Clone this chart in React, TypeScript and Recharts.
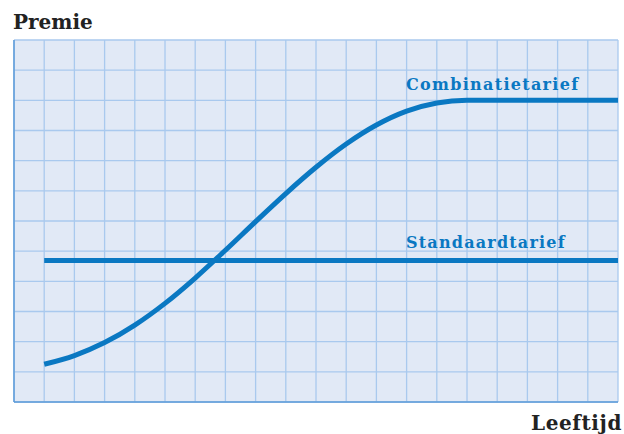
import { LineChart, Line, XAxis, YAxis, CartesianGrid } from 'recharts';

// leeftijd-klassen (x-as, geen labels in origineel)
const ages = [1, 2, 3, 4, 5, 6, 7, 8, 9, 10, 11, 12, 13, 14, 15, 16, 17, 18, 19, 20];
const combinatie = [1.25, 1.54, 1.97, 2.55, 3.27, 4.11, 5.03, 5.98, 6.91, 7.78, 8.55, 9.18, 9.64, 9.91, 10, 10, 10, 10, 10, 10];
const standaard = [4.69, 4.69, 4.69, 4.69, 4.69, 4.69, 4.69, 4.69, 4.69, 4.69, 4.69, 4.69, 4.69, 4.69, 4.69, 4.69, 4.69, 4.69, 4.69, 4.69];
const xTicks = [0, 1, 2, 3, 4, 5, 6, 7, 8, 9, 10, 11, 12, 13, 14, 15, 16, 17, 18, 19];
const yTicks = [0, 1, 2, 3, 4, 5, 6, 7, 8, 9, 10, 11, 12];

const data = ages.map((a, i) => ({ age: a, combinatie: combinatie[i], standaard: standaard[i] }));

const BLUE = '#0a78c2';
const font = '"DejaVu Serif", serif';

export default function App() {
  return (
    <div style={{ position: 'absolute', left: 0, top: 0, width: 624, height: 434, background: '#fff', fontFamily: font }}>
      <LineChart width={624} height={434} data={data} margin={{ top: 40, right: 6, bottom: 31, left: 13 }}>
        <CartesianGrid fill="#e1e9f6" stroke="#a9c9ee" strokeWidth={1.3} strokeOpacity={1} />
        <XAxis
          dataKey="age"
          type="number"
          domain={[0, 20]}
          ticks={xTicks}
          interval={0}
          tick={() => <g />}
          tickLine={false}
          height={1}
          axisLine={{ stroke: '#5d9bd8', strokeWidth: 1.5 }}
        />
        <YAxis
          type="number"
          domain={[0, 12]}
          ticks={yTicks}
          interval={0}
          tick={() => <g />}
          tickLine={false}
          width={1}
          axisLine={{ stroke: '#5d9bd8', strokeWidth: 1.5 }}
        />
        <Line
          dataKey="standaard"
          type="linear"
          stroke={BLUE}
          strokeWidth={5}
          dot={false}
          isAnimationActive={false}
        />
        <Line
          dataKey="combinatie"
          type="monotone"
          stroke={BLUE}
          strokeWidth={5}
          dot={false}
          isAnimationActive={false}
        />
      </LineChart>
      <div style={{ position: 'absolute', left: 13, top: 10, fontSize: 20, fontWeight: 700, color: '#222' }}>Premie</div>
      <div style={{ position: 'absolute', right: 2, top: 411, fontSize: 20, fontWeight: 700, color: '#222', letterSpacing: 0.6 }}>Leeftijd</div>
      <div style={{ position: 'absolute', left: 406, top: 75, fontSize: 16, fontWeight: 700, color: BLUE, letterSpacing: 1.3 }}>Combinatietarief</div>
      <div style={{ position: 'absolute', left: 406, top: 233, fontSize: 16, fontWeight: 700, color: BLUE, letterSpacing: 1.2 }}>Standaardtarief</div>
    </div>
  );
}
